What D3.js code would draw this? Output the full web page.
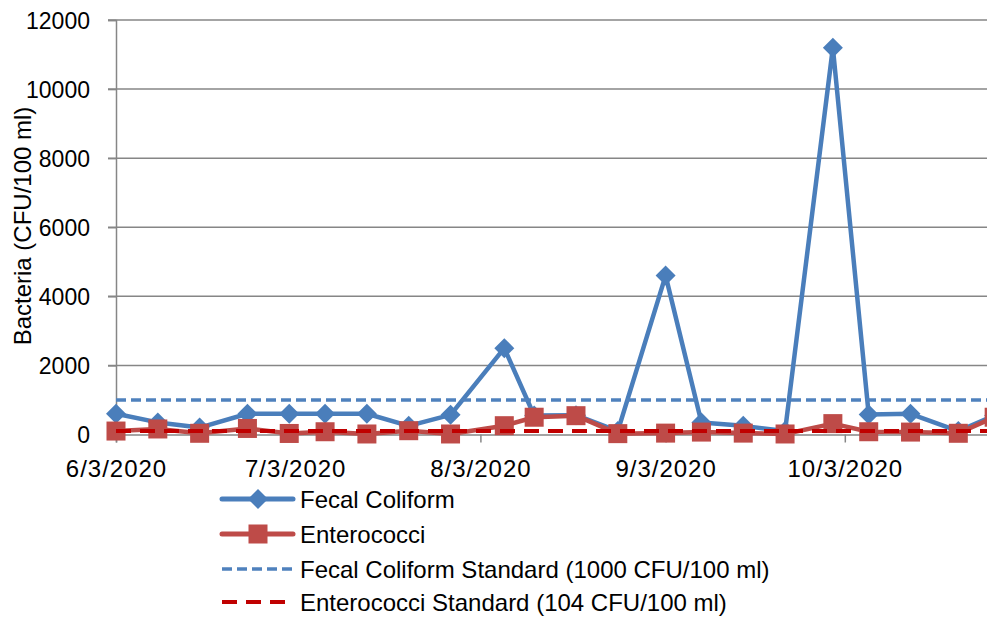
<!DOCTYPE html>
<html><head><meta charset="utf-8">
<script src="https://cdn.jsdelivr.net/npm/d3@7"></script>
<style>html,body{margin:0;padding:0;background:#fff;}svg{display:block;}</style>
</head><body>
<svg id="c" width="987" height="617"></svg>
<script>
// ---- data ----
const sampleDates = ["2020-06-03","2020-06-10","2020-06-17","2020-06-25","2020-07-02","2020-07-08","2020-07-15","2020-07-22","2020-07-29","2020-08-07","2020-08-12","2020-08-19","2020-08-26","2020-09-03","2020-09-09","2020-09-16","2020-09-23","2020-10-01","2020-10-07","2020-10-14","2020-10-22","2020-10-28"];
const fecalColiform = [600,350,200,600,600,600,600,250,570,2500,550,560,100,4600,350,250,100,11200,580,600,100,550];
const enterococci   = [100,160,35,175,30,80,15,110,15,255,500,545,25,40,70,40,15,315,80,70,35,500];
const fecalStandard = 1000;
const enteroStandard = 104;
const xTickLabels = ["6/3/2020","7/3/2020","8/3/2020","9/3/2020","10/3/2020"];
const xAxisEnd = "11/3/2020";
const yTicks = [0,2000,4000,6000,8000,10000,12000];
const seriesNames = ["Fecal Coliform","Enterococci","Fecal Coliform Standard (1000 CFU/100 ml)","Enterococci Standard (104 CFU/100 ml)"];
const yTitle = "Bacteria (CFU/100 ml)";

// ---- drawing ----
const FONT = "'Liberation Sans', Arial, sans-serif";
const FS = 24;
const svg = d3.select("#c");
const parse = d3.utcParse("%Y-%m-%d");
const parseTick = d3.utcParse("%m/%d/%Y");
const dates = sampleDates.map(parse);
const tickDates = xTickLabels.map(parseTick);
const endDate = parseTick(xAxisEnd);

const x = d3.scaleUtc().domain([tickDates[0], endDate]).range([116, 1030]);
const y = d3.scaleLinear().domain([0, 12000]).range([434.5, 20]);

const gridColor = "#868686";

// gridlines
svg.append("g").selectAll("line").data(yTicks.filter(d=>d>0)).join("line")
  .attr("x1", 108).attr("x2", 1030)
  .attr("y1", d=>y(d)).attr("y2", d=>y(d))
  .attr("stroke", gridColor).attr("stroke-width", 1.5);

// y axis
const yAxis = d3.axisLeft(y).tickValues(yTicks).tickSize(8).tickPadding(18).tickFormat(d3.format("d"));
const gy = svg.append("g").attr("transform", "translate(116,0)").call(yAxis);
gy.select(".domain").attr("stroke", gridColor).attr("stroke-width", 1.5);
gy.selectAll(".tick line").attr("stroke", gridColor).attr("stroke-width", 1.5);
gy.selectAll(".tick text").attr("font-family", FONT).attr("font-size", 23).attr("fill", "#000").attr("dy", "0.36em");

// x axis
const xAxis = d3.axisBottom(x).tickValues(tickDates.concat([endDate])).tickSize(8).tickPadding(17)
  .tickFormat((d,i)=>xTickLabels[i] || "");
const gx = svg.append("g").attr("transform", "translate(0,434.5)").call(xAxis);
gx.select(".domain").attr("stroke", gridColor).attr("stroke-width", 1.5);
gx.selectAll(".tick line").attr("stroke", gridColor).attr("stroke-width", 1.5);
gx.selectAll(".tick text").attr("font-family", FONT).attr("font-size", FS).attr("fill", "#000")
  .attr("dy", "0.72em").attr("letter-spacing", "1px");

// y title
svg.append("text").attr("transform", "translate(31,226) rotate(-90)")
  .attr("text-anchor", "middle").attr("font-family", FONT).attr("font-size", FS).attr("fill", "#000")
  .text(yTitle);

const blue = "#4A7EBB", red = "#BE4B48", darkRed = "#C00000", stdBlue = "#4F81BD";
const line = d3.line().x(d=>x(d[0])).y(d=>y(d[1]));
const fcData = dates.map((d,i)=>[d, fecalColiform[i]]);
const enData = dates.map((d,i)=>[d, enterococci[i]]);

function diamondPath(cx, cy, r){ return `M${cx},${cy-r}L${cx+r},${cy}L${cx},${cy+r}L${cx-r},${cy}Z`; }

// Fecal Coliform series
svg.append("path").datum(fcData).attr("d", line).attr("fill","none").attr("stroke", blue)
  .attr("stroke-width", 4.5).attr("stroke-linejoin","round");
svg.append("g").selectAll("path").data(fcData).join("path")
  .attr("d", d=>diamondPath(x(d[0]), y(d[1]), 10)).attr("fill", blue);

// Enterococci series
svg.append("path").datum(enData).attr("d", line).attr("fill","none").attr("stroke", red)
  .attr("stroke-width", 4.5).attr("stroke-linejoin","round");
svg.append("g").selectAll("rect").data(enData).join("rect")
  .attr("x", d=>x(d[0])-9.5).attr("y", d=>y(d[1])-9.5).attr("width",19).attr("height",19).attr("fill", red);

// Standards
svg.append("line").attr("x1", x(dates[0])).attr("x2", x(dates[dates.length-1]))
  .attr("y1", y(fecalStandard)).attr("y2", y(fecalStandard))
  .attr("stroke", stdBlue).attr("stroke-width", 3.5).attr("stroke-dasharray","10,5");
svg.append("line").attr("x1", x(dates[0])).attr("x2", x(dates[dates.length-1]))
  .attr("y1", y(enteroStandard)).attr("y2", y(enteroStandard))
  .attr("stroke", darkRed).attr("stroke-width", 4).attr("stroke-dasharray","15,9");

// legend
const lg = svg.append("g");
const rows = [499, 534, 569, 602];
const lx1 = 222, lx2 = 293, lmx = 258;
lg.append("line").attr("x1",lx1).attr("x2",lx2).attr("y1",rows[0]).attr("y2",rows[0]).attr("stroke",blue).attr("stroke-width",5).attr("stroke-linecap","round");
lg.append("path").attr("d", diamondPath(lmx, rows[0], 10)).attr("fill", blue);
lg.append("line").attr("x1",lx1).attr("x2",lx2).attr("y1",rows[1]).attr("y2",rows[1]).attr("stroke",red).attr("stroke-width",5).attr("stroke-linecap","round");
lg.append("rect").attr("x",lmx-9.5).attr("y",rows[1]-9.5).attr("width",19).attr("height",19).attr("fill",red);
lg.append("line").attr("x1",lx1).attr("x2",lx2).attr("y1",rows[2]).attr("y2",rows[2]).attr("stroke",stdBlue).attr("stroke-width",3.5).attr("stroke-dasharray","10,5");
lg.append("line").attr("x1",lx1).attr("x2",lx2).attr("y1",rows[3]).attr("y2",rows[3]).attr("stroke",darkRed).attr("stroke-width",4).attr("stroke-dasharray","15,9");
lg.selectAll("text").data(seriesNames).join("text")
  .attr("x", 300).attr("y", (d,i)=>rows[i]).attr("dy","0.36em")
  .attr("font-family", FONT).attr("font-size", FS).attr("fill","#000").text(d=>d);
</script>
</body></html>
